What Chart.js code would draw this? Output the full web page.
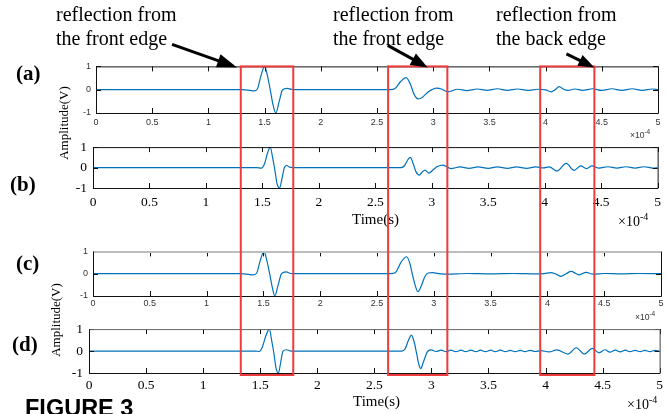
<!DOCTYPE html>
<html>
<head>
<meta charset="utf-8">
<script src="https://cdn.jsdelivr.net/npm/chart.js@4.4.0/dist/chart.umd.min.js"></script>
<style>
html, body { margin: 0; padding: 0; background: #fff; }
#stage { position: relative; width: 667px; height: 414px; overflow: hidden; }
#stage canvas { position: absolute; left: 0; }
#ov { position: absolute; left: 0; top: 0; }
.serif { font-family: "Liberation Serif", "Times New Roman", serif; fill: #000; }
.sans { font-family: "Liberation Sans", Arial, sans-serif; fill: #333; }
</style>
</head>
<body>
<div id="stage">
  <canvas id="panelA"></canvas>
  <canvas id="panelB"></canvas>
  <canvas id="panelC"></canvas>
  <canvas id="panelD"></canvas>
  <svg id="ov" width="667" height="414">
    <text class="serif" x="56" y="21" font-size="20">reflection from</text>
    <text class="serif" x="56" y="45" font-size="20">the front edge</text>
    <text class="serif" x="333" y="21" font-size="20">reflection from</text>
    <text class="serif" x="333" y="45" font-size="20">the front edge</text>
    <text class="serif" x="496" y="21" font-size="20">reflection from</text>
    <text class="serif" x="496" y="45" font-size="20">the back edge</text>

    <text class="serif" x="16" y="80" font-size="21" font-weight="bold">(a)</text>
    <text class="serif" x="10" y="191" font-size="21" font-weight="bold">(b)</text>
    <text class="serif" x="16" y="270" font-size="21" font-weight="bold">(c)</text>
    <text class="serif" x="12" y="351" font-size="21" font-weight="bold">(d)</text>

    <text class="serif" font-size="13" text-anchor="middle" transform="translate(68,123) rotate(-90)">Amplitude(V)</text>
    <text class="serif" font-size="13" text-anchor="middle" transform="translate(60,320) rotate(-90)">Amplitude(V)</text>

    <text class="serif" x="375.5" y="224" font-size="15" text-anchor="middle">Time(s)</text>
    <text class="serif" x="376.5" y="406" font-size="15" text-anchor="middle">Time(s)</text>

    <text class="sans" x="630" y="138" font-size="8.5">×10<tspan dy="-4" font-size="6.5">-4</tspan></text>
    <text class="sans" x="635" y="320" font-size="8.5">×10<tspan dy="-4" font-size="6.5">-4</tspan></text>
    <text class="serif" x="618" y="226" font-size="14">×10<tspan dy="-6" font-size="10">-4</tspan></text>
    <text class="serif" x="627" y="409" font-size="14">×10<tspan dy="-6" font-size="10">-4</tspan></text>

    <text x="25" y="416" font-family="Liberation Sans, Arial, sans-serif" font-weight="bold" font-size="23.5" fill="#000">FIGURE  3</text>
  </svg>
</div>
<script>
// time axis in units of 1e-4 s, amplitude in V
const xTicks = [0, 0.5, 1, 1.5, 2, 2.5, 3, 3.5, 4, 4.5, 5];
const yTicks = [-1, 0, 1];

// [time, amplitude]
const waveA = [[0, 0], [1.30, 0], [1.37, -0.03], [1.405, -0.05], [1.435, 0.02], [1.465, 0.55], [1.50, 1.0],
  [1.525, 0.6], [1.55, 0.0], [1.575, -0.65], [1.60, -1.0], [1.63, -0.5], [1.66, 0.0], [1.70, 0.06],
  [1.74, 0.01], [1.78, 0], [2.62, 0], [2.66, 0.05], [2.71, 0.35], [2.76, 0.52], [2.80, 0.2], [2.83, -0.2],
  [2.87, -0.4], [2.91, -0.3], [2.96, -0.08], [3.03, 0.07], [3.08, 0.02], [3.13, -0.09], [3.22, 0.02],
  [3.30, -0.04], [3.39, 0.03], [3.48, -0.03], [3.57, 0.04], [3.66, -0.03], [3.75, 0.03], [3.84, -0.03],
  [3.93, 0.02], [4.00, -0.01], [4.05, -0.09], [4.085, 0.0], [4.12, 0.13], [4.16, 0.02], [4.20, -0.03],
  [4.26, 0.03], [4.33, -0.03], [4.42, 0.04], [4.50, -0.03], [4.59, 0.04], [4.68, -0.03], [4.77, 0.04],
  [4.86, -0.03], [4.95, 0.03], [5.0, 0]];

const waveB = [[0, 0], [1.45, 0], [1.49, -0.03], [1.52, 0.2], [1.545, 0.7], [1.57, 1.0], [1.59, 0.5],
  [1.61, -0.1], [1.63, -0.8], [1.652, -1.0], [1.675, -0.5], [1.695, 0.0], [1.717, 0.1], [1.74, 0.02],
  [1.77, 0], [2.73, 0], [2.76, 0.1], [2.79, 0.4], [2.81, 0.5], [2.835, 0.2], [2.86, -0.2], [2.89, -0.37],
  [2.915, -0.22], [2.94, -0.13], [2.975, -0.27], [3.01, -0.12], [3.05, 0.05], [3.10, 0.12], [3.17, -0.05],
  [3.25, 0.03], [3.33, -0.04], [3.41, 0.03], [3.50, -0.04], [3.58, 0.03], [3.67, -0.04], [3.75, 0.03],
  [3.84, -0.04], [3.92, 0.03], [3.99, -0.02], [4.04, 0.03], [4.11, -0.17], [4.19, 0.2], [4.26, -0.14],
  [4.32, 0.08], [4.37, -0.05], [4.42, 0.08], [4.48, -0.03], [4.56, 0.04], [4.64, -0.03], [4.72, 0.04],
  [4.80, -0.03], [4.88, 0.04], [4.96, -0.03], [5.0, 0]];

const waveC = [[0, 0], [1.30, 0], [1.37, -0.03], [1.41, -0.05], [1.44, 0.02], [1.47, 0.55], [1.505, 1.0],
  [1.53, 0.6], [1.555, 0.0], [1.58, -0.65], [1.60, -1.0], [1.63, -0.5], [1.66, 0.0], [1.70, 0.08],
  [1.74, 0.01], [1.78, 0], [2.62, 0], [2.66, 0.04], [2.71, 0.5], [2.76, 0.76], [2.79, 0.45], [2.81, 0.0],
  [2.835, -0.5], [2.86, -0.81], [2.89, -0.55], [2.92, -0.15], [2.95, 0.03], [2.99, 0.05], [3.04, 0.0],
  [3.10, -0.02], [3.30, 0.01], [3.50, -0.01], [3.70, 0.01], [3.90, -0.01], [3.97, 0.0], [4.03, 0.05],
  [4.08, -0.03], [4.12, -0.12], [4.165, 0.0], [4.21, 0.1], [4.25, 0.01], [4.28, -0.05], [4.34, 0.06],
  [4.40, -0.02], [4.50, 0.01], [4.65, -0.01], [4.80, 0.01], [5.0, 0]];

const waveD = [[0, 0], [1.46, 0], [1.49, -0.02], [1.52, 0.2], [1.55, 0.7], [1.58, 1.0], [1.60, 0.5],
  [1.62, -0.1], [1.64, -0.8], [1.66, -1.0], [1.68, -0.5], [1.70, 0.0], [1.73, 0.06], [1.76, 0.01],
  [1.79, 0], [2.74, 0], [2.77, 0.1], [2.80, 0.5], [2.825, 0.73], [2.85, 0.4], [2.87, -0.1], [2.89, -0.6],
  [2.907, -0.8], [2.93, -0.5], [2.97, 0.0], [3.0, 0.05], [3.04, -0.02], [3.085, 0.04], [3.13, -0.03],
  [3.17, 0.04], [3.215, -0.03], [3.26, 0.04], [3.30, -0.03], [3.345, 0.04], [3.39, -0.03], [3.43, 0.04],
  [3.475, -0.03], [3.52, 0.04], [3.56, -0.03], [3.605, 0.04], [3.65, -0.03], [3.69, 0.03], [3.735, -0.03],
  [3.78, 0.03], [3.82, -0.03], [3.865, 0.03], [3.91, -0.02], [3.96, 0.02], [4.03, -0.04], [4.10, 0.05],
  [4.197, -0.14], [4.27, 0.15], [4.34, -0.14], [4.41, 0.12], [4.47, -0.08], [4.52, 0.06], [4.565, -0.05],
  [4.61, 0.04], [4.655, -0.04], [4.70, 0.04], [4.74, -0.03], [4.785, 0.03], [4.83, -0.03], [4.87, 0.03],
  [4.915, -0.03], [4.96, 0.03], [5.0, 0]];

// annotation boxes, in panel (a) time units
const boxSpans = [[1.288, 1.755], [2.599, 3.126], [3.952, 4.434]];
const arrows = [
  { tip: 1.255, dx: -65, dy: -23, head: 20, half: 7 },
  { tip: 2.951, dx: -40, dy: -22, head: 17, half: 6.5 },
  { tip: 4.434, dx: -28, dy: -13.5, head: 16, half: 6 },
];

const W = 667;
const SERIF = 'Liberation Serif, Times New Roman, serif';
const SANS = 'Liberation Sans, Arial, sans-serif';
const lineBlue = '#0072BD';

// box + inward ticks the matlab way
const matlabBox = {
  id: 'matlabBox',
  afterDatasetsDraw(chart, args, opts) {
    const { ctx, chartArea: a, scales: { x, y } } = chart;
    ctx.save();
    ctx.lineWidth = 1;
    ctx.strokeStyle = '#111';
    ctx.beginPath();
    x.ticks.forEach(t => {
      const px = Math.round(x.getPixelForValue(t.value)) + 0.5;
      ctx.moveTo(px, a.top); ctx.lineTo(px, a.top + 5);
      ctx.moveTo(px, a.bottom); ctx.lineTo(px, a.bottom - 5);
    });
    y.ticks.forEach(t => {
      const py = Math.round(y.getPixelForValue(t.value)) + 0.5;
      ctx.moveTo(a.left, py); ctx.lineTo(a.left + 5, py);
      ctx.moveTo(a.right, py); ctx.lineTo(a.right - 5, py);
    });
    ctx.stroke();
    const side = (c, w, x0, y0, x1, y1) => {
      ctx.strokeStyle = c; ctx.lineWidth = w;
      ctx.beginPath(); ctx.moveTo(x0, y0); ctx.lineTo(x1, y1); ctx.stroke();
    };
    const l = a.left + 0.5, r = a.right + 0.5, t = a.top + 0.5, b = a.bottom + 0.5;
    side(opts.topColor, opts.topWidth, l, t, r, t);
    side('#111', 1, l, b, r, b);
    side('#111', 1, l, t, l, b);
    side(opts.rightColor, 1, r, t, r, b);
    ctx.restore();
  },
};

function makePanel(id, wave, box, look) {
  const cv = document.getElementById(id);
  const padTop = 10;
  cv.width = W;
  cv.height = padTop + (box.B - box.T) + look.xH;
  cv.style.top = (box.T - padTop) + 'px';
  const tickFont = { family: look.family, size: look.size };
  const chart = new Chart(cv, {
    type: 'line',
    data: {
      datasets: [{
        data: wave.map(p => ({ x: p[0], y: p[1] })),
        borderColor: lineBlue,
        borderWidth: 1.2,
        pointRadius: 0,
        cubicInterpolationMode: 'monotone',
        fill: false,
      }],
    },
    options: {
      responsive: false,
      animation: false,
      devicePixelRatio: 1,
      layout: { padding: { left: box.L - 30, right: W - box.R, top: padTop, bottom: 0 } },
      plugins: {
        legend: { display: false },
        tooltip: { enabled: false },
        matlabBox: { topColor: look.topColor, topWidth: look.topWidth, rightColor: look.rightColor },
      },
      scales: {
        x: {
          type: 'linear', min: 0, max: 5,
          afterBuildTicks: s => { s.ticks = xTicks.map(v => ({ value: v })); },
          afterFit: s => { s.height = look.xH; },
          grid: { display: false, drawTicks: false },
          border: { display: false },
          ticks: { font: tickFont, color: look.color, padding: look.xPad, maxRotation: 0, autoSkip: false, callback: v => String(v) },
        },
        y: {
          type: 'linear', min: -1, max: 1,
          afterBuildTicks: s => { s.ticks = yTicks.map(v => ({ value: v })); },
          afterFit: s => { s.width = 30; },
          grid: { display: false, drawTicks: false },
          border: { display: false },
          ticks: { font: tickFont, color: look.color, padding: look.yPad, callback: v => String(v) },
        },
      },
    },
    plugins: [matlabBox],
  });
  chart.offsetTop = box.T - padTop;
  return chart;
}

const smallLook = { family: SANS, size: 9, color: '#333', xPad: 4, yPad: 5, xH: 18, topColor: '#111', topWidth: 1, rightColor: '#111' };
const bigLook = { family: SERIF, size: 13.5, color: '#000', xPad: 6, yPad: 6, xH: 24, topColor: '#111', topWidth: 1, rightColor: '#111' };

const chartA = makePanel('panelA', waveA, { L: 96, R: 658, T: 66, B: 113 }, smallLook);
const chartB = makePanel('panelB', waveB, { L: 93, R: 658, T: 143, B: 188 }, bigLook);
const chartC = makePanel('panelC', waveC, { L: 93, R: 661, T: 251, B: 296 },
  Object.assign({}, smallLook, { xPad: 2, topColor: '#bdbdbd', topWidth: 2 }));
const chartD = makePanel('panelD', waveD, { L: 89, R: 662, T: 325, B: 373 },
  Object.assign({}, bigLook, { xPad: 4, topColor: '#666', rightColor: '#444' }));

// red boxes and arrows, placed through panel (a)'s time axis
const ov = document.getElementById('ov');
const NS = 'http://www.w3.org/2000/svg';
function add(tag, attrs) {
  const el = document.createElementNS(NS, tag);
  Object.keys(attrs).forEach(k => el.setAttribute(k, attrs[k]));
  ov.appendChild(el);
  return el;
}
const xa = chartA.scales.x;
const boxTop = chartA.offsetTop + chartA.chartArea.top;
const boxBottom = chartD.offsetTop + chartD.chartArea.bottom + 2;
boxSpans.forEach(([t0, t1]) => {
  const x0 = xa.getPixelForValue(t0), x1 = xa.getPixelForValue(t1);
  add('rect', { x: x0, y: boxTop, width: x1 - x0, height: boxBottom - boxTop, fill: 'none', stroke: '#ee3b3b', 'stroke-width': 2 });
});
arrows.forEach(a => {
  const tx = xa.getPixelForValue(a.tip), ty = boxTop + 1;
  const len = Math.hypot(a.dx, a.dy);
  const ux = -a.dx / len, uy = -a.dy / len;
  const bx = tx - ux * a.head, by = ty - uy * a.head;
  add('line', { x1: tx + a.dx, y1: ty + a.dy, x2: bx + ux * 2, y2: by + uy * 2, stroke: '#000', 'stroke-width': 3 });
  const pts = [[tx, ty], [bx - uy * a.half, by + ux * a.half], [bx + uy * a.half, by - ux * a.half]];
  add('polygon', { points: pts.map(p => p.join(',')).join(' '), fill: '#000' });
});
</script>
</body>
</html>
